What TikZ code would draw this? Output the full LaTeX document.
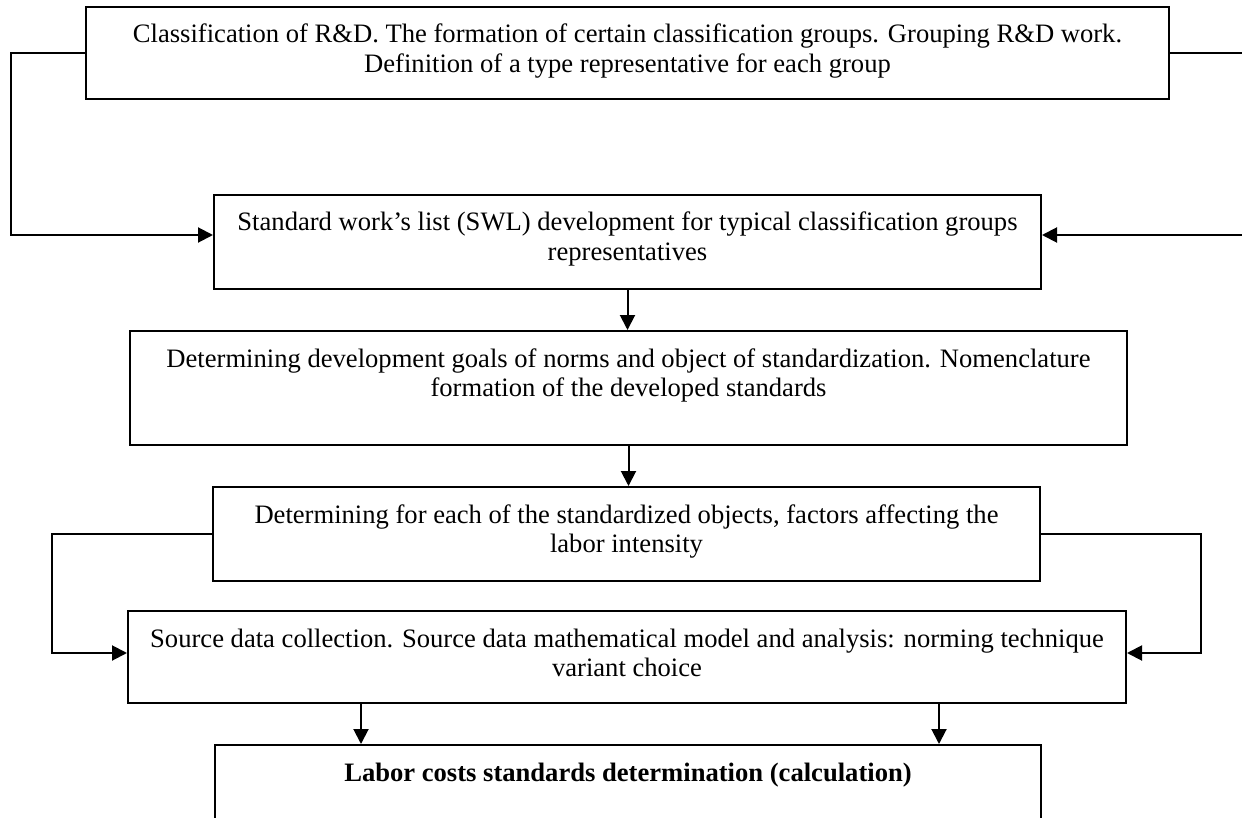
\documentclass[tikz,border=0pt]{standalone}
\usepackage{fontspec}
\setmainfont{Liberation Serif}
\usetikzlibrary{arrows.meta}
\newcommand{\btext}[3]{\parbox[c][#2][t]{#1}{\centering\rule{0pt}{36pt}#3}}
\tikzset{
  box/.style={draw, line width=2pt, inner xsep=5pt, inner ysep=0pt, font=\fontsize{26.6}{29.5}\selectfont},
  conn/.style={line width=2pt},
  arr/.style={line width=2pt, -{Triangle[length=15pt,width=15pt]}}
}
\begin{document}
\begin{tikzpicture}[x=1pt,y=-1pt]
\useasboundingbox (0,0) rectangle (1242,818);
\fill[white] (0,0) rectangle (1242,818);

\node[box] (b1) at (627.5,53) {\btext{1073pt}{92pt}{Classification of R\&D. The formation of certain classification groups. Grouping R\&D work.\\Definition of a type representative for each group}};
\node[box] (b2) at (627.5,242) {\btext{817pt}{94pt}{Standard work’s list (SWL) development for typical classification groups\\representatives}};
\node[box] (b3) at (628.5,388) {\btext{987pt}{114pt}{Determining development goals of norms and object of standardization. Nomenclature\\formation of the developed standards}};
\node[box] (b4) at (626.5,534) {\btext{817pt}{94pt}{Determining for each of the standardized objects, factors affecting the\\labor intensity}};
\node[box] (b5) at (627,657) {\btext{988pt}{92pt}{Source data collection. Source data mathematical model and analysis: norming technique\\variant choice}};
\node[box] (b6) at (628,792.5) {\btext{816pt}{95pt}{\textbf{Labor costs standards determination (calculation)}}};

% top feedback connectors
\draw[arr] (b1.west) -- ++(-74,0) |- ([yshift=7pt]b2.west);
\draw[arr] (b1.east) -- ++(90,0) |- ([yshift=7pt]b2.east);

% vertical flow
\draw[arr] (b2.south) -- (b2.south |- b3.north);
\draw[arr] (b3.south) -- (b3.south |- b4.north);

% side connectors b4 -> b5
\draw[arr] (b4.west) -- ++(-160,0) |- ([yshift=4pt]b5.west);
\draw[arr] (b4.east) -- ++(160,0) |- ([yshift=4pt]b5.east);

% b5 -> b6
\draw[arr] ([xshift=-266pt]b5.south) -- ([xshift=-266pt]b5.south |- b6.north);
\draw[arr] ([xshift=312pt]b5.south) -- ([xshift=312pt]b5.south |- b6.north);
\end{tikzpicture}
\end{document}
